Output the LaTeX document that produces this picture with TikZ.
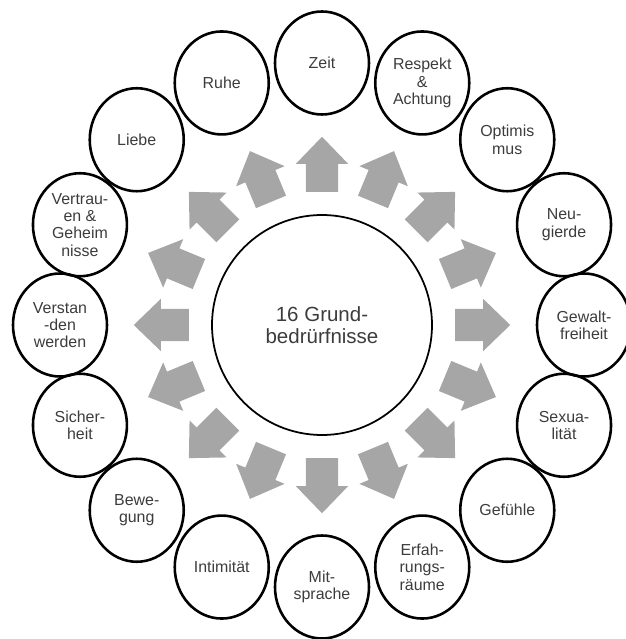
\documentclass[tikz,border=0pt]{standalone}
\usepackage{fontspec}
\setmainfont{Liberation Sans}
\usetikzlibrary{shapes.arrows, shapes.geometric}
\definecolor{pfeilgrau}{RGB}{166,166,166}
\definecolor{textgrau}{RGB}{60,60,60}

\tikzset{
  beduerfnis/.style={ellipse, draw=black, line width=2.2pt, minimum width=2.82cm,
    minimum height=3.09cm, inner sep=0pt, align=center, text=textgrau,
    font=\fontsize{13.6}{14.8}\selectfont},
  pfeil/.style={single arrow, fill=pfeilgrau, draw=none, inner xsep=0pt,
    inner ysep=0.48cm, minimum height=1.65cm, single arrow head extend=0.3cm,
    single arrow tip angle=88, anchor=tail}
}

\begin{document}
\begin{tikzpicture}
    \useasboundingbox (-9.66,-9.42) rectangle (9.09,9.75);
    % Mitte
    \node[circle, draw=black, line width=1.5pt, minimum size=6.6cm, align=center,
      text=textgrau, font=\fontsize{17.5}{19}\selectfont] (mitte) at (0,0) {16 Grund-\\bedrürfnisse};
    % Pfeile und Beduerfnisse im Uhrzeigersinn, ab oben
    \foreach \name/\txt [count=\i] in {zeit/Zeit, respekt/{Respekt\\\&\\Achtung},
        optimismus/{Optimis\\mus}, neugierde/{Neu-\\gierde}, gewalt/{Gewalt-\\freiheit},
        sexualitaet/{Sexua-\\lität}, gefuehle/Gefühle, erfahrung/{Erfah-\\rungs-\\räume},
        mitsprache/{Mit-\\sprache}, intimitaet/Intimität, bewegung/{Bewe-\\gung},
        sicherheit/{Sicher-\\heit}, verstanden/{Verstan\\-den\\werden},
        vertrauen/{Vertrau-\\en \&\\Geheim\\nisse}, liebe/Liebe, ruhe/Ruhe} {
        \pgfmathsetmacro\winkel{90-22.5*(\i-1)}
        \node[pfeil, rotate=\winkel] (pfeil\i) at (\winkel:3.99) {};
        \node[beduerfnis] (\name) at (\winkel:7.86) {\txt};
    }
\end{tikzpicture}
\end{document}
